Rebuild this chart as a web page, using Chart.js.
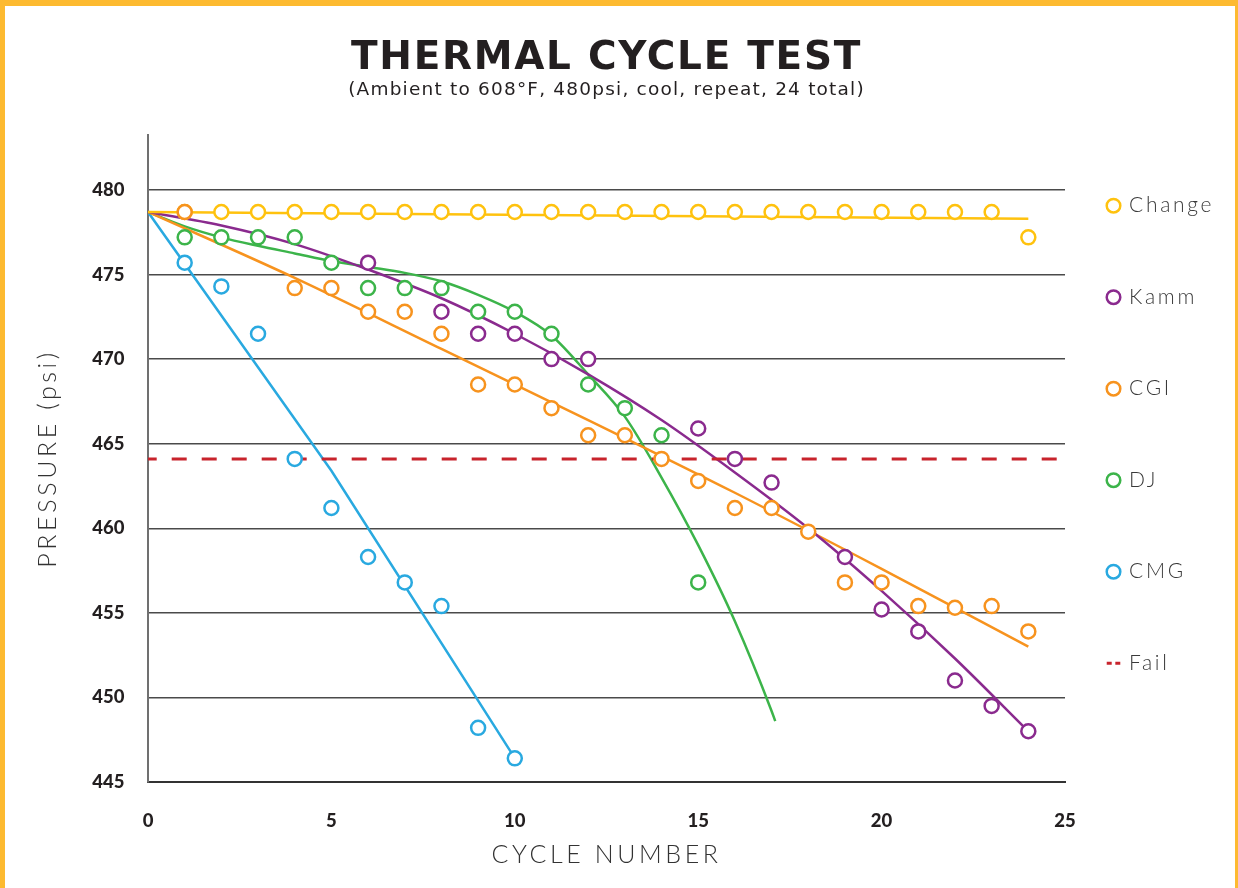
<!DOCTYPE html>
<html lang="en">
<head>
<meta charset="UTF-8">
<title>Thermal Cycle Test</title>
<script src="https://cdn.jsdelivr.net/npm/chart.js"></script>
<style>
  html, body { margin: 0; padding: 0; background: #fff; }
  #frame {
    width: 1238px; height: 888px; box-sizing: border-box;
    border-top: 6px solid #FDBA30; border-left: 5px solid #FDBA30; border-right: 3px solid #FDBA30;
  }
  canvas { display: block; }
</style>
</head>
<body>
<div id="frame"><canvas id="chart" width="1230" height="882"></canvas></div>
<script>
// measured points, cycle 1..24 (null = no visible marker)
const cycles = [1, 2, 3, 4, 5, 6, 7, 8, 9, 10, 11, 12, 13, 14, 15, 16, 17, 18, 19, 20, 21, 22, 23, 24];
const changePsi = [478.7, 478.7, 478.7, 478.7, 478.7, 478.7, 478.7, 478.7, 478.7, 478.7, 478.7, 478.7,
                   478.7, 478.7, 478.7, 478.7, 478.7, 478.7, 478.7, 478.7, 478.7, 478.7, 478.7, 477.2];
const kammPsi = [null, null, null, null, null, 475.7, null, 472.8, 471.5, 471.5, 470.0, 470.0,
                 null, null, 465.9, 464.1, 462.7, null, 458.3, 455.2, 453.9, 451.0, 449.5, 448.0];
const cgiPsi = [478.7, null, null, 474.2, 474.2, 472.8, 472.8, 471.5, 468.5, 468.5, 467.1, 465.5,
                465.5, 464.1, 462.8, 461.2, 461.2, 459.8, 456.8, 456.8, 455.4, 455.3, 455.4, 453.9];
const djPsi = [477.2, 477.2, 477.2, 477.2, 475.7, 474.2, 474.2, 474.2, 472.8, 472.8, 471.5, 468.5,
               467.1, 465.5, 456.8, null, null, null, null, null, null, null, null, null];
const cmgPsi = [475.7, 474.3, 471.5, 464.1, 461.2, 458.3, 456.8, 455.4, 448.2, 446.4, null, null,
                null, null, null, null, null, null, null, null, null, null, null, null];

// fitted curves as they appear on the chart
const changeFitX = [0, 24];
const changeFit = [478.7, 478.3];
const kammFitX = [0, 2, 4, 6, 8, 10, 12, 14, 16, 18, 20, 22, 24];
const kammFit = [478.7, 477.9, 476.8, 475.3, 473.6, 471.5, 469.1, 466.4, 463.3, 460.0, 456.3, 452.3, 448.0];
const cgiFitX = [0, 4, 8, 12, 16, 20, 24];
const cgiFit = [478.7, 474.8, 470.6, 466.4, 462.1, 457.6, 453.0];
const djFitX = [0, 1, 2, 3, 4, 5, 6, 7, 8, 9, 10, 11, 12, 13, 14, 15, 16, 17, 17.1];
const djFit = [478.7, 477.85, 477.2, 476.7, 476.25, 475.8, 475.45, 475.1, 474.6, 473.8, 472.8, 471.4,
               469.1, 466.6, 463.0, 459.0, 454.5, 449.2, 448.6];
const cmgFitX = [0, 5, 9.9];
const cmgFit = [478.7, 463.4, 446.75];
const failX = [0, 25];
const failPsi = [464.1, 464.1];

const xTicks = [0, 5, 10, 15, 20, 25];
const yTicks = [445, 450, 455, 460, 465, 470, 475, 480];

const colors = {
  Change: '#FFC20E',
  Kamm: '#8A2A8E',
  CGI: '#F7931E',
  DJ: '#3CB44A',
  CMG: '#29A9E0',
  Fail: '#C8232C'
};

const toXY = (xs, ys) => xs.map((x, i) => ({ x: x, y: ys[i] })).filter(p => p.y !== null);

function markers(label, values, order) {
  return {
    label: label,
    data: toXY(cycles, values),
    showLine: false,
    inLegend: true,
    order: order,
    borderColor: colors[label],
    pointBorderColor: colors[label],
    pointBackgroundColor: '#fff',
    pointRadius: 7,
    pointHoverRadius: 7,
    pointBorderWidth: 2.5
  };
}

function fitLine(name, xs, ys, smooth) {
  return {
    label: name + ' fit',
    data: toXY(xs, ys),
    showLine: true,
    inLegend: false,
    order: 20,
    borderColor: colors[name],
    borderWidth: 2.5,
    pointRadius: 0,
    pointHoverRadius: 0,
    cubicInterpolationMode: smooth ? 'monotone' : 'default',
    tension: 0
  };
}

const datasets = [
  markers('Change', changePsi, 5),
  markers('Kamm', kammPsi, 4),
  markers('CGI', cgiPsi, 3),
  markers('DJ', djPsi, 2),
  markers('CMG', cmgPsi, 1),
  {
    label: 'Fail',
    data: toXY(failX, failPsi),
    showLine: true,
    inLegend: true,
    order: 10,
    borderColor: colors.Fail,
    borderWidth: 3,
    borderDash: [15, 15],
    borderDashOffset: 6.3,
    pointRadius: 0,
    pointHoverRadius: 0
  },
  fitLine('Change', changeFitX, changeFit, false),
  fitLine('Kamm', kammFitX, kammFit, true),
  fitLine('CGI', cgiFitX, cgiFit, true),
  fitLine('DJ', djFitX, djFit, true),
  fitLine('CMG', cmgFitX, cmgFit, false)
];

// the original lettering is wider than the installed fonts, so space it out a little
function spacingFor(font) {
  if (font.indexOf('DejaVu') >= 0) return font.indexOf('39px') >= 0 ? '1.7px' : '1.2px';
  if (/^300 /.test(font)) return font.indexOf('25px') >= 0 ? '3.6px' : '2.7px';
  return '0px';
}

const spacedText = {
  id: 'spacedText',
  beforeDraw(chart) {
    const ctx = chart.ctx;
    if (ctx.__spaced) return;
    ctx.__spaced = true;
    const fillText = ctx.fillText;
    ctx.fillText = function (text, x, y, maxWidth) {
      this.letterSpacing = spacingFor(this.font);
      if (maxWidth === undefined) return fillText.call(this, text, x, y);
      return fillText.call(this, text, x, y, maxWidth);
    };
  }
};

// legend sits a bit higher and further left than its layout box
const legendShift = {
  id: 'legendShift',
  afterLayout(chart) {
    const lg = chart.legend;
    if (!lg) return;
    lg.left -= 27;
    lg.width += 27;
    lg.top -= 10.3;
    lg.bottom -= 10.3;
  }
};

const tickFont = { family: 'Lato', weight: '900', size: 18.5 };
const lightFont = { family: 'Lato', weight: '300', size: 25 };

new Chart(document.getElementById('chart'), {
  type: 'scatter',
  data: { datasets: datasets },
  plugins: [spacedText, legendShift],
  options: {
    responsive: false,
    animation: false,
    devicePixelRatio: 1,
    layout: { padding: 0 },
    scales: {
      x: {
        type: 'linear',
        min: 0,
        max: 25,
        afterFit: s => { s.height = 106; },
        afterBuildTicks: s => { s.ticks = xTicks.map(v => ({ value: v })); },
        grid: { display: false },
        border: { display: true, color: '#333', width: 2 },
        ticks: { padding: 20, color: '#231F20', font: tickFont },
        title: {
          display: true, text: 'CYCLE NUMBER', color: '#333',
          font: lightFont, padding: { top: 0, bottom: 18.3 }
        }
      },
      y: {
        type: 'linear',
        min: 445,
        max: 483.25,
        afterFit: s => { s.width = 143; },
        afterBuildTicks: s => { s.ticks = yTicks.map(v => ({ value: v })); },
        grid: { color: '#4a4a4a', lineWidth: 1.5, drawTicks: false },
        border: { display: true, color: '#707070', width: 2 },
        ticks: { padding: 23.5, color: '#231F20', font: tickFont },
        title: {
          display: true, text: 'PRESSURE (psi)', color: '#333',
          font: lightFont, padding: { top: 28.3, bottom: 0 }
        }
      }
    },
    plugins: {
      title: {
        display: true,
        text: 'THERMAL CYCLE TEST',
        color: '#231F20',
        fullSize: false,
        font: { family: 'DejaVu Sans', weight: 'bold', size: 39, lineHeight: 1 },
        padding: { top: 33, bottom: 0 }
      },
      subtitle: {
        display: true,
        text: '(Ambient to 608°F, 480psi, cool, repeat, 24 total)',
        color: '#231F20',
        fullSize: false,
        font: { family: 'DejaVu Sans', size: 18.5, lineHeight: 1 },
        padding: { top: 2.5, bottom: 36 }
      },
      legend: {
        position: 'right',
        align: 'start',
        fullSize: false,
        maxWidth: 173,
        labels: {
          usePointStyle: true,
          boxWidth: 10,
          boxHeight: 9.6,
          padding: 70.5,
          color: '#3a3a3a',
          font: { family: 'Lato', weight: '300', size: 21 },
          filter: (item, data) => data.datasets[item.datasetIndex].inLegend,
          sort: (a, b) => a.datasetIndex - b.datasetIndex,
          generateLabels: chart => {
            const items = Chart.defaults.plugins.legend.labels.generateLabels(chart);
            items.forEach(item => {
              if (item.text === 'Fail') {
                item.pointStyle = 'line';
                item.lineDash = [5, 3.6];
                item.lineWidth = 3;
                item.strokeStyle = colors.Fail;
              }
            });
            return items;
          }
        }
      },
      tooltip: { enabled: false }
    }
  }
});
</script>
</body>
</html>
